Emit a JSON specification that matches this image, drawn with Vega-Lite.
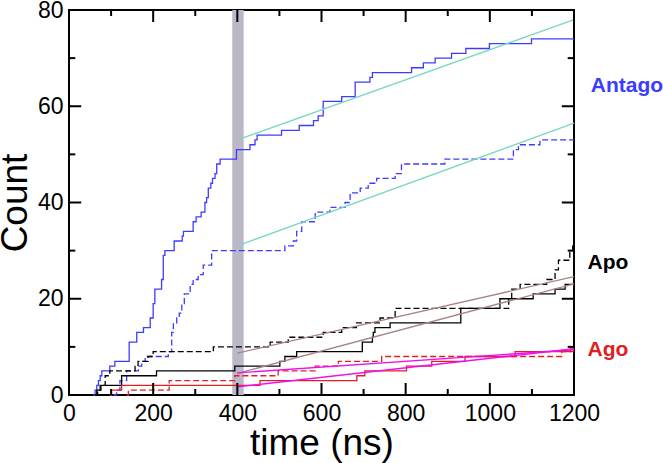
{
  "$schema": "https://vega.github.io/schema/vega-lite/v6.json",
  "width": 505,
  "height": 385,
  "autosize": "none",
  "padding": {"left": 69, "top": 10, "right": 89, "bottom": 68},
  "config": {
    "view": {"stroke": "black", "strokeWidth": 2},
    "font": "Liberation Sans",
    "axis": {
      "domain": false, "grid": false, "zindex": 1,
      "labelFont": "Liberation Sans", "titleFont": "Liberation Sans",
      "labelFontSize": 23, "titleFontSize": 37, "titleFontWeight": "normal",
      "labelColor": "black", "titleColor": "black",
      "tickColor": "#000000", "tickWidth": 2, "labelOverlap": false, "labelFlush": false
    }
  },
  "datasets": {
    "xmajor": [{"v": 0}, {"v": 200}, {"v": 400}, {"v": 600}, {"v": 800}, {"v": 1000}, {"v": 1200}],
    "xminor": [{"v": 100}, {"v": 300}, {"v": 500}, {"v": 700}, {"v": 900}, {"v": 1100}],
    "ymajor": [{"v": 0}, {"v": 20}, {"v": 40}, {"v": 60}, {"v": 80}],
    "yminor": [{"v": 10}, {"v": 30}, {"v": 50}, {"v": 70}],
    "steps": [
      {"series": "Antago", "run": "1", "t": 58, "count": 0},
      {"series": "Antago", "run": "1", "t": 62, "count": 1},
      {"series": "Antago", "run": "1", "t": 66, "count": 2},
      {"series": "Antago", "run": "1", "t": 70, "count": 3},
      {"series": "Antago", "run": "1", "t": 74, "count": 4},
      {"series": "Antago", "run": "1", "t": 78, "count": 5},
      {"series": "Antago", "run": "1", "t": 97, "count": 6},
      {"series": "Antago", "run": "1", "t": 109, "count": 7},
      {"series": "Antago", "run": "1", "t": 143, "count": 11},
      {"series": "Antago", "run": "1", "t": 161, "count": 13},
      {"series": "Antago", "run": "1", "t": 177, "count": 14},
      {"series": "Antago", "run": "1", "t": 193, "count": 16},
      {"series": "Antago", "run": "1", "t": 200, "count": 19},
      {"series": "Antago", "run": "1", "t": 204, "count": 22},
      {"series": "Antago", "run": "1", "t": 220, "count": 24},
      {"series": "Antago", "run": "1", "t": 224, "count": 29},
      {"series": "Antago", "run": "1", "t": 228, "count": 30},
      {"series": "Antago", "run": "1", "t": 250, "count": 32},
      {"series": "Antago", "run": "1", "t": 269, "count": 33},
      {"series": "Antago", "run": "1", "t": 272, "count": 34},
      {"series": "Antago", "run": "1", "t": 295, "count": 36},
      {"series": "Antago", "run": "1", "t": 302, "count": 37},
      {"series": "Antago", "run": "1", "t": 314, "count": 38},
      {"series": "Antago", "run": "1", "t": 323, "count": 40},
      {"series": "Antago", "run": "1", "t": 327, "count": 41},
      {"series": "Antago", "run": "1", "t": 331, "count": 43},
      {"series": "Antago", "run": "1", "t": 337, "count": 44},
      {"series": "Antago", "run": "1", "t": 341, "count": 45},
      {"series": "Antago", "run": "1", "t": 347, "count": 46},
      {"series": "Antago", "run": "1", "t": 351, "count": 48},
      {"series": "Antago", "run": "1", "t": 359, "count": 49},
      {"series": "Antago", "run": "1", "t": 398, "count": 51},
      {"series": "Antago", "run": "1", "t": 430, "count": 52},
      {"series": "Antago", "run": "1", "t": 442, "count": 53},
      {"series": "Antago", "run": "1", "t": 447, "count": 54},
      {"series": "Antago", "run": "1", "t": 505, "count": 55},
      {"series": "Antago", "run": "1", "t": 547, "count": 56},
      {"series": "Antago", "run": "1", "t": 581, "count": 57},
      {"series": "Antago", "run": "1", "t": 592, "count": 58},
      {"series": "Antago", "run": "1", "t": 604, "count": 61},
      {"series": "Antago", "run": "1", "t": 648, "count": 62},
      {"series": "Antago", "run": "1", "t": 680, "count": 65},
      {"series": "Antago", "run": "1", "t": 715, "count": 66},
      {"series": "Antago", "run": "1", "t": 721, "count": 67},
      {"series": "Antago", "run": "1", "t": 814, "count": 68},
      {"series": "Antago", "run": "1", "t": 842, "count": 69},
      {"series": "Antago", "run": "1", "t": 870, "count": 70},
      {"series": "Antago", "run": "1", "t": 909, "count": 71},
      {"series": "Antago", "run": "1", "t": 943, "count": 72},
      {"series": "Antago", "run": "1", "t": 999, "count": 73},
      {"series": "Antago", "run": "1", "t": 1099, "count": 74},
      {"series": "Antago", "run": "1", "t": 1200, "count": 74},

      {"series": "Antago", "run": "2", "t": 105, "count": 0},
      {"series": "Antago", "run": "2", "t": 113, "count": 1},
      {"series": "Antago", "run": "2", "t": 121, "count": 3},
      {"series": "Antago", "run": "2", "t": 137, "count": 5},
      {"series": "Antago", "run": "2", "t": 165, "count": 6},
      {"series": "Antago", "run": "2", "t": 173, "count": 7},
      {"series": "Antago", "run": "2", "t": 181, "count": 8},
      {"series": "Antago", "run": "2", "t": 236, "count": 9},
      {"series": "Antago", "run": "2", "t": 244, "count": 13},
      {"series": "Antago", "run": "2", "t": 248, "count": 15},
      {"series": "Antago", "run": "2", "t": 256, "count": 16},
      {"series": "Antago", "run": "2", "t": 262, "count": 17},
      {"series": "Antago", "run": "2", "t": 268, "count": 19},
      {"series": "Antago", "run": "2", "t": 274, "count": 21},
      {"series": "Antago", "run": "2", "t": 288, "count": 23},
      {"series": "Antago", "run": "2", "t": 295, "count": 24},
      {"series": "Antago", "run": "2", "t": 307, "count": 25},
      {"series": "Antago", "run": "2", "t": 319, "count": 27},
      {"series": "Antago", "run": "2", "t": 339, "count": 30},
      {"series": "Antago", "run": "2", "t": 513, "count": 31},
      {"series": "Antago", "run": "2", "t": 533, "count": 32},
      {"series": "Antago", "run": "2", "t": 541, "count": 34},
      {"series": "Antago", "run": "2", "t": 553, "count": 36},
      {"series": "Antago", "run": "2", "t": 585, "count": 38},
      {"series": "Antago", "run": "2", "t": 620, "count": 39},
      {"series": "Antago", "run": "2", "t": 656, "count": 40},
      {"series": "Antago", "run": "2", "t": 668, "count": 42},
      {"series": "Antago", "run": "2", "t": 692, "count": 43},
      {"series": "Antago", "run": "2", "t": 711, "count": 44},
      {"series": "Antago", "run": "2", "t": 731, "count": 45},
      {"series": "Antago", "run": "2", "t": 775, "count": 46},
      {"series": "Antago", "run": "2", "t": 790, "count": 48},
      {"series": "Antago", "run": "2", "t": 893, "count": 49},
      {"series": "Antago", "run": "2", "t": 1056, "count": 51},
      {"series": "Antago", "run": "2", "t": 1068, "count": 52},
      {"series": "Antago", "run": "2", "t": 1119, "count": 53},
      {"series": "Antago", "run": "2", "t": 1200, "count": 53},

      {"series": "Apo", "run": "1", "t": 62, "count": 0},
      {"series": "Apo", "run": "1", "t": 66, "count": 1},
      {"series": "Apo", "run": "1", "t": 74, "count": 2},
      {"series": "Apo", "run": "1", "t": 125, "count": 4},
      {"series": "Apo", "run": "1", "t": 208, "count": 5},
      {"series": "Apo", "run": "1", "t": 394, "count": 6},
      {"series": "Apo", "run": "1", "t": 501, "count": 7},
      {"series": "Apo", "run": "1", "t": 513, "count": 8},
      {"series": "Apo", "run": "1", "t": 541, "count": 9},
      {"series": "Apo", "run": "1", "t": 697, "count": 11},
      {"series": "Apo", "run": "1", "t": 721, "count": 12},
      {"series": "Apo", "run": "1", "t": 723, "count": 13},
      {"series": "Apo", "run": "1", "t": 727, "count": 14},
      {"series": "Apo", "run": "1", "t": 763, "count": 15},
      {"series": "Apo", "run": "1", "t": 931, "count": 18},
      {"series": "Apo", "run": "1", "t": 1024, "count": 20},
      {"series": "Apo", "run": "1", "t": 1103, "count": 21},
      {"series": "Apo", "run": "1", "t": 1155, "count": 22},
      {"series": "Apo", "run": "1", "t": 1179, "count": 23},
      {"series": "Apo", "run": "1", "t": 1200, "count": 23},

      {"series": "Apo", "run": "2", "t": 62, "count": 0},
      {"series": "Apo", "run": "2", "t": 68, "count": 1},
      {"series": "Apo", "run": "2", "t": 76, "count": 2},
      {"series": "Apo", "run": "2", "t": 86, "count": 4},
      {"series": "Apo", "run": "2", "t": 97, "count": 5},
      {"series": "Apo", "run": "2", "t": 157, "count": 6},
      {"series": "Apo", "run": "2", "t": 164, "count": 7},
      {"series": "Apo", "run": "2", "t": 188, "count": 8},
      {"series": "Apo", "run": "2", "t": 200, "count": 9},
      {"series": "Apo", "run": "2", "t": 343, "count": 10},
      {"series": "Apo", "run": "2", "t": 478, "count": 11},
      {"series": "Apo", "run": "2", "t": 521, "count": 12},
      {"series": "Apo", "run": "2", "t": 604, "count": 13},
      {"series": "Apo", "run": "2", "t": 648, "count": 14},
      {"series": "Apo", "run": "2", "t": 683, "count": 15},
      {"series": "Apo", "run": "2", "t": 739, "count": 16},
      {"series": "Apo", "run": "2", "t": 775, "count": 18},
      {"series": "Apo", "run": "2", "t": 1045, "count": 20},
      {"series": "Apo", "run": "2", "t": 1052, "count": 22},
      {"series": "Apo", "run": "2", "t": 1072, "count": 23},
      {"series": "Apo", "run": "2", "t": 1135, "count": 24},
      {"series": "Apo", "run": "2", "t": 1155, "count": 26},
      {"series": "Apo", "run": "2", "t": 1163, "count": 28},
      {"series": "Apo", "run": "2", "t": 1190, "count": 30},
      {"series": "Apo", "run": "2", "t": 1197, "count": 31},
      {"series": "Apo", "run": "2", "t": 1200, "count": 31},

      {"series": "Ago", "run": "1", "t": 97, "count": 0},
      {"series": "Ago", "run": "1", "t": 101, "count": 1},
      {"series": "Ago", "run": "1", "t": 125, "count": 2},
      {"series": "Ago", "run": "1", "t": 454, "count": 3},
      {"series": "Ago", "run": "1", "t": 684, "count": 4},
      {"series": "Ago", "run": "1", "t": 703, "count": 5},
      {"series": "Ago", "run": "1", "t": 802, "count": 6},
      {"series": "Ago", "run": "1", "t": 862, "count": 7},
      {"series": "Ago", "run": "1", "t": 941, "count": 8},
      {"series": "Ago", "run": "1", "t": 1060, "count": 9},
      {"series": "Ago", "run": "1", "t": 1192, "count": 10},
      {"series": "Ago", "run": "1", "t": 1200, "count": 10},

      {"series": "Ago", "run": "2", "t": 137, "count": 0},
      {"series": "Ago", "run": "2", "t": 141, "count": 1},
      {"series": "Ago", "run": "2", "t": 238, "count": 3},
      {"series": "Ago", "run": "2", "t": 394, "count": 4},
      {"series": "Ago", "run": "2", "t": 497, "count": 5},
      {"series": "Ago", "run": "2", "t": 585, "count": 6},
      {"series": "Ago", "run": "2", "t": 640, "count": 7},
      {"series": "Ago", "run": "2", "t": 743, "count": 8},
      {"series": "Ago", "run": "2", "t": 1171, "count": 9},
      {"series": "Ago", "run": "2", "t": 1200, "count": 9}
    ],
    "fits": [
      {"series": "Antago fit", "fit": "a1", "t": 400, "count": 53},
      {"series": "Antago fit", "fit": "a1", "t": 1200, "count": 78},
      {"series": "Antago fit", "fit": "a2", "t": 400, "count": 31},
      {"series": "Antago fit", "fit": "a2", "t": 1200, "count": 56.5},
      {"series": "Apo fit", "fit": "p1", "t": 400, "count": 4.5},
      {"series": "Apo fit", "fit": "p1", "t": 1200, "count": 23.1},
      {"series": "Apo fit", "fit": "p2", "t": 400, "count": 8.7},
      {"series": "Apo fit", "fit": "p2", "t": 1200, "count": 24.6},
      {"series": "Ago fit", "fit": "g1", "t": 400, "count": 1.7},
      {"series": "Ago fit", "fit": "g1", "t": 1200, "count": 9.6},
      {"series": "Ago fit", "fit": "g2", "t": 400, "count": 4.6},
      {"series": "Ago fit", "fit": "g2", "t": 1200, "count": 9.4}
    ],
    "labels": [
      {"series": "Antago", "t": 1240, "count": 63},
      {"series": "Apo", "t": 1232, "count": 26.2},
      {"series": "Ago", "t": 1232, "count": 8.1}
    ]
  },
  "resolve": {"axis": {"x": "independent", "y": "independent"}},
  "layer": [
    {
      "data": {"values": [{"start": 388, "end": 415}]},
      "mark": {"type": "rect", "color": "#bbb7c7"},
      "encoding": {
        "x": {"field": "start", "type": "quantitative", "scale": {"domain": [0, 1200], "nice": false}, "axis": null},
        "x2": {"field": "end"},
        "y": {"datum": 0, "type": "quantitative", "scale": {"domain": [0, 80], "nice": false}, "axis": null},
        "y2": {"datum": 80}
      }
    },
    {
      "data": {"name": "steps"},
      "mark": {"type": "line", "interpolate": "step-after", "strokeWidth": 1.3},
      "encoding": {
        "x": {"field": "t", "type": "quantitative", "scale": {"domain": [0, 1200], "nice": false},
          "axis": {"orient": "bottom", "values": [0, 200, 400, 600, 800, 1000, 1200], "format": "d",
            "title": "time (ns)", "ticks": false, "labelPadding": 7,
            "titleBaseline": "alphabetic", "titleY": 59}},
        "y": {"field": "count", "type": "quantitative", "scale": {"domain": [0, 80], "nice": false},
          "axis": {"orient": "left", "values": [0, 20, 40, 60, 80], "format": "d",
            "title": "Count", "ticks": false, "labelPadding": 6,
            "titleBaseline": "alphabetic", "titleX": -43}},
        "color": {"field": "series", "type": "nominal", "legend": null,
          "scale": {"domain": ["Antago", "Apo", "Ago", "Antago fit", "Apo fit", "Ago fit"],
            "range": ["#3c3cff", "#000000", "#e02020", "#7ad8c2", "#a88585", "#ee10ee"]}},
        "strokeDash": {"field": "run", "type": "nominal", "legend": null,
          "scale": {"domain": ["1", "2"], "range": [[1, 0], [6, 3]]}}
      }
    },
    {
      "data": {"name": "fits"},
      "mark": {"type": "line", "strokeWidth": 1.4},
      "encoding": {
        "x": {"field": "t", "type": "quantitative", "axis": null},
        "y": {"field": "count", "type": "quantitative", "axis": null},
        "color": {"field": "series", "type": "nominal", "legend": null,
          "scale": {"domain": ["Antago", "Apo", "Ago", "Antago fit", "Apo fit", "Ago fit"],
            "range": ["#3c3cff", "#000000", "#e02020", "#7ad8c2", "#a88585", "#ee10ee"]}},
        "detail": {"field": "fit", "type": "nominal"}
      }
    },
    {
      "data": {"name": "labels"},
      "mark": {"type": "text", "align": "left", "baseline": "alphabetic", "fontWeight": "bold", "fontSize": 21, "font": "Liberation Sans"},
      "encoding": {
        "x": {"field": "t", "type": "quantitative", "axis": null},
        "y": {"field": "count", "type": "quantitative", "axis": null},
        "text": {"field": "series"},
        "color": {"field": "series", "type": "nominal", "legend": null,
          "scale": {"domain": ["Antago", "Apo", "Ago", "Antago fit", "Apo fit", "Ago fit"],
            "range": ["#3c3cff", "#000000", "#e02020", "#7ad8c2", "#a88585", "#ee10ee"]}}
      }
    },
    {"data": {"name": "xmajor"}, "mark": {"type": "rule", "color": "black", "strokeWidth": 2},
      "encoding": {"x": {"field": "v", "type": "quantitative", "axis": null}, "y": {"datum": 0, "type": "quantitative", "axis": null}, "y2": {"datum": 2.5}}},
    {"data": {"name": "xminor"}, "mark": {"type": "rule", "color": "black", "strokeWidth": 2},
      "encoding": {"x": {"field": "v", "type": "quantitative", "axis": null}, "y": {"datum": 0, "type": "quantitative", "axis": null}, "y2": {"datum": 1.25}}},
    {"data": {"name": "xmajor"}, "mark": {"type": "rule", "color": "black", "strokeWidth": 2},
      "encoding": {"x": {"field": "v", "type": "quantitative", "axis": null}, "y": {"datum": 80, "type": "quantitative", "axis": null}, "y2": {"datum": 77.5}}},
    {"data": {"name": "xminor"}, "mark": {"type": "rule", "color": "black", "strokeWidth": 2},
      "encoding": {"x": {"field": "v", "type": "quantitative", "axis": null}, "y": {"datum": 80, "type": "quantitative", "axis": null}, "y2": {"datum": 78.75}}},
    {"data": {"name": "ymajor"}, "mark": {"type": "rule", "color": "black", "strokeWidth": 2},
      "encoding": {"y": {"field": "v", "type": "quantitative", "axis": null}, "x": {"datum": 0, "type": "quantitative", "axis": null}, "x2": {"datum": 29}}},
    {"data": {"name": "yminor"}, "mark": {"type": "rule", "color": "black", "strokeWidth": 2},
      "encoding": {"y": {"field": "v", "type": "quantitative", "axis": null}, "x": {"datum": 0, "type": "quantitative", "axis": null}, "x2": {"datum": 15}}},
    {"data": {"name": "ymajor"}, "mark": {"type": "rule", "color": "black", "strokeWidth": 2},
      "encoding": {"y": {"field": "v", "type": "quantitative", "axis": null}, "x": {"datum": 1200, "type": "quantitative", "axis": null}, "x2": {"datum": 1171}}},
    {"data": {"name": "yminor"}, "mark": {"type": "rule", "color": "black", "strokeWidth": 2},
      "encoding": {"y": {"field": "v", "type": "quantitative", "axis": null}, "x": {"datum": 1200, "type": "quantitative", "axis": null}, "x2": {"datum": 1185}}}
  ]
}
